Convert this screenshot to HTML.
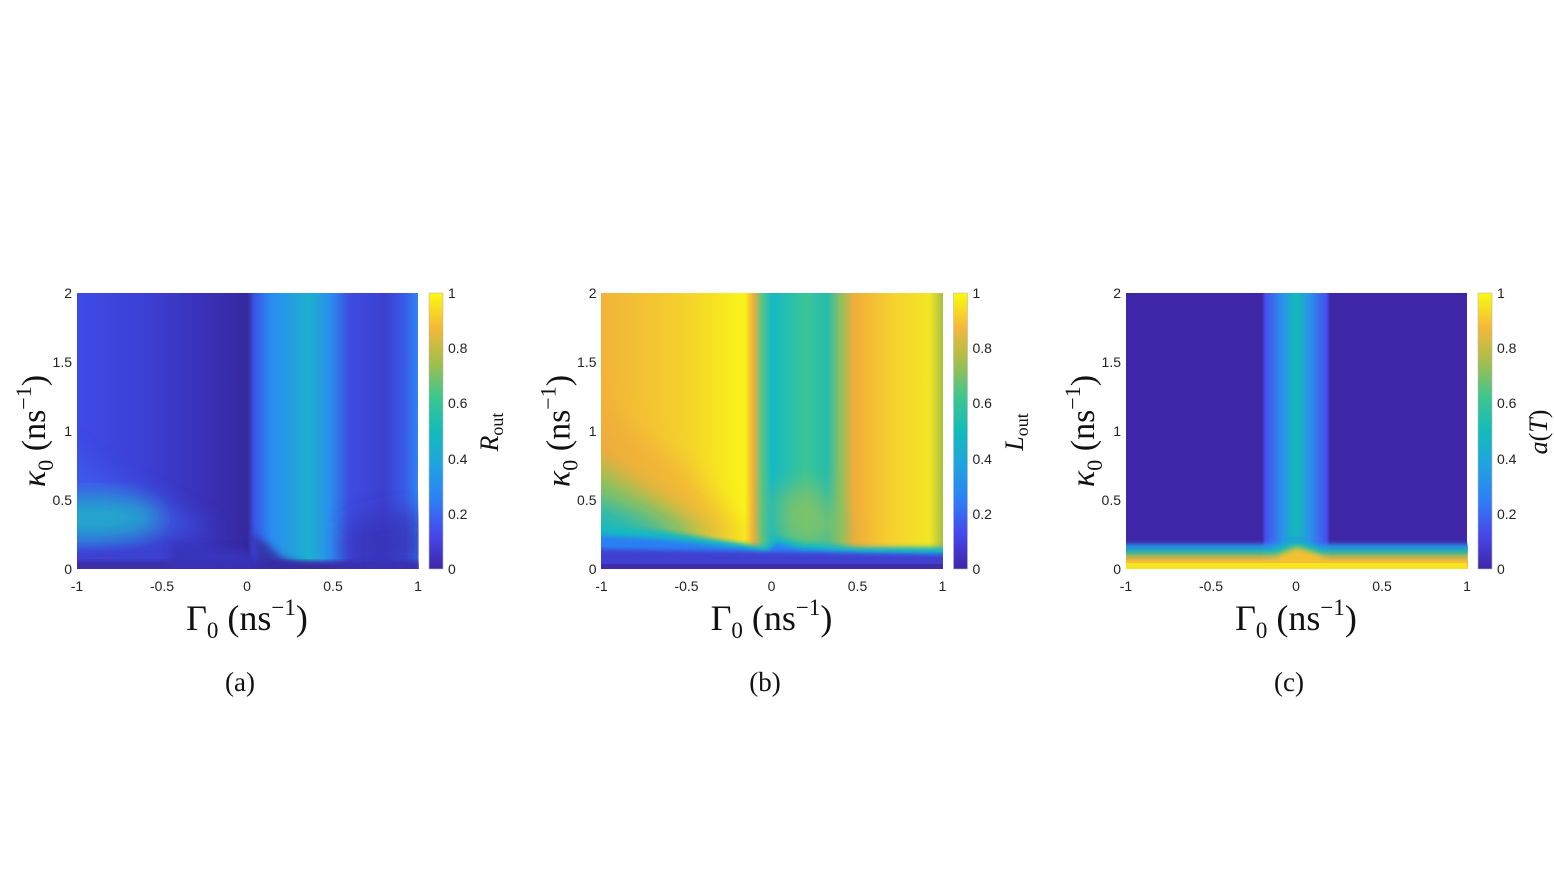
<!DOCTYPE html>
<html><head><meta charset="utf-8"><style>
html,body{margin:0;padding:0;background:#fff}
svg text{font-family:"Liberation Sans",sans-serif}
.t{font-size:14px;fill:#222}
.s{font-family:"Liberation Serif",serif !important;fill:#111}
</style></head><body>
<svg width="1554" height="874" viewBox="0 0 1554 874" xmlns="http://www.w3.org/2000/svg">
<defs>
<filter id="b4" x="-20%" y="-20%" width="140%" height="140%"><feGaussianBlur stdDeviation="4"/></filter>
<filter id="b10" x="-30%" y="-30%" width="160%" height="160%"><feGaussianBlur stdDeviation="12"/></filter>
<filter id="b2"><feGaussianBlur stdDeviation="2"/></filter>
<clipPath id="cp"><rect width="342" height="276"/></clipPath>
<linearGradient id="parula" x1="0" y1="1" x2="0" y2="0">
<stop offset="0" stop-color="#3e26a8"/><stop offset="0.125" stop-color="#4747eb"/>
<stop offset="0.25" stop-color="#2d7ff6"/><stop offset="0.375" stop-color="#1fa3e0"/>
<stop offset="0.5" stop-color="#12bcb8"/><stop offset="0.625" stop-color="#3fc58f"/>
<stop offset="0.75" stop-color="#a4be4a"/><stop offset="0.875" stop-color="#f5b83a"/>
<stop offset="1" stop-color="#f9fb0e"/></linearGradient>
<linearGradient id="ah" x1="0" y1="0" x2="1" y2="0">
<stop offset="0" stop-color="#3e4ae6"/><stop offset="0.2" stop-color="#3c40d4"/>
<stop offset="0.38" stop-color="#3930b6"/><stop offset="0.5" stop-color="#36299f"/>
<stop offset="0.52" stop-color="#3a55e6"/><stop offset="0.57" stop-color="#2a8cf2"/>
<stop offset="0.68" stop-color="#1db0cc"/><stop offset="0.74" stop-color="#2a90ee"/>
<stop offset="0.8" stop-color="#3d4ce0"/><stop offset="0.9" stop-color="#3c3fd0"/>
<stop offset="0.96" stop-color="#3a5ae8"/><stop offset="1" stop-color="#2f85f2"/></linearGradient>
<linearGradient id="bh" x1="0" y1="0" x2="1" y2="0">
<stop offset="0" stop-color="#f2b23a"/><stop offset="0.25" stop-color="#f5d22c"/>
<stop offset="0.42" stop-color="#f9f418"/><stop offset="0.445" stop-color="#f2ae3a"/>
<stop offset="0.47" stop-color="#5cc482"/><stop offset="0.5" stop-color="#14b9c4"/>
<stop offset="0.6" stop-color="#3bc596"/><stop offset="0.66" stop-color="#25bcae"/>
<stop offset="0.7" stop-color="#8cc060"/><stop offset="0.74" stop-color="#f2ad3a"/>
<stop offset="0.85" stop-color="#f6d02e"/><stop offset="0.96" stop-color="#f3e624"/>
<stop offset="1" stop-color="#a8bf44"/></linearGradient>
<linearGradient id="cband" x1="0" y1="0" x2="1" y2="0">
<stop offset="0" stop-color="#3f26a6"/><stop offset="0.05" stop-color="#4650f0"/>
<stop offset="0.3" stop-color="#2a92ea"/><stop offset="0.5" stop-color="#12bcb8"/>
<stop offset="0.7" stop-color="#2a92ea"/><stop offset="0.95" stop-color="#4650f0"/><stop offset="1" stop-color="#3f26a6"/></linearGradient>
</defs>

<!-- PANEL A -->
<g transform="translate(77,293)" clip-path="url(#cp)">
<rect width="341" height="276" fill="url(#ah)"/>
<polygon points="-20,150 60,200 140,240 -20,240" fill="#3f5cec" filter="url(#b10)" opacity="0.8"/>
<ellipse cx="15" cy="225" rx="70" ry="22" fill="#22a8cc" filter="url(#b10)"/>
<polygon points="-10,258 100,255 165,262 175,276 -10,280" fill="#3d3fd0" filter="url(#b4)"/>
<polygon points="-10,268 341,268 345,285 -10,285" fill="#3a2ea8" filter="url(#b2)"/>
<polygon points="95,250 170,258 230,276 90,280" fill="#3933b8" filter="url(#b4)" opacity="0.8"/>
<polygon points="172,240 185,280 250,280 205,265 190,250" fill="#36299f" filter="url(#b4)" opacity="0.8"/>
<polygon points="270,230 345,215 345,280 270,280" fill="#3930b8" filter="url(#b10)" opacity="0.8"/>
</g>
<!-- PANEL B -->
<g transform="translate(601,293)" clip-path="url(#cp)">
<rect width="342" height="276" fill="url(#bh)"/>
<polygon points="-20,100 80,170 150,250 -20,250" fill="#f0a93c" filter="url(#b10)" opacity="0.6"/>
<polygon points="-20,160 60,210 120,250 -20,250" fill="#8cc25c" filter="url(#b10)"/>
<polygon points="-20,200 40,225 90,250 -20,250" fill="#1cb8bc" filter="url(#b10)"/>
<polygon points="175,200 215,190 240,230 250,250 180,250" fill="#8cc260" filter="url(#b10)" opacity="0.8"/>
<polygon points="-10,232 60,238 140,250 165,254 175,244 200,250 260,254 350,254 350,280 -10,280" fill="#15b8c2" filter="url(#b2)"/>
<polygon points="-10,242 60,246 140,255 165,260 175,250 200,256 260,260 350,261 350,280 -10,280" fill="#2c7ff2" filter="url(#b2)"/>
<polygon points="-10,256 350,262 350,280 -10,280" fill="#4040d0" filter="url(#b2)"/>
<rect y="271" width="342" height="6" fill="#3e2ca8"/>
</g>
<!-- PANEL C -->
<g transform="translate(1126,293)" clip-path="url(#cp)">
<rect width="341" height="276" fill="#3f26a6"/>
<rect x="136" width="68" height="276" fill="url(#cband)"/>
<polygon points="-5,251 136,251 160,250 171,244 185,251 350,251 350,257 -5,257" fill="#2d8cee" filter="url(#b2)"/>
<polygon points="-5,255 145,255 171,246 195,255 350,255 350,262 -5,262" fill="#18b4c2" filter="url(#b2)"/>
<polygon points="-5,260 150,260 171,252 195,260 350,260 350,266 -5,266" fill="#7cc46a" filter="url(#b2)"/>
<polygon points="-5,264 150,264 171,256 200,264 350,264 350,280 -5,280" fill="#f4c030" filter="url(#b2)"/>
<rect y="270" width="341" height="7" fill="#f6e422"/>
</g>

<g id="ax">
<g class="t" text-anchor="end">
<text x="72" y="298">2</text><text x="72" y="367">1.5</text><text x="72" y="436">1</text><text x="72" y="505">0.5</text><text x="72" y="574">0</text>
</g>
<g class="t" text-anchor="middle">
<text x="77" y="591">-1</text><text x="162" y="591">-0.5</text><text x="247" y="591">0</text><text x="333" y="591">0.5</text><text x="418" y="591">1</text>
</g>
<rect x="429" y="293" width="14" height="276" fill="url(#parula)"/>
<rect x="429" y="293" width="14" height="276" fill="none" stroke="#bbb" stroke-width="0.6"/>
<g class="t"><text x="448" y="298">1</text><text x="448" y="353">0.8</text><text x="448" y="408">0.6</text><text x="448" y="464">0.4</text><text x="448" y="519">0.2</text><text x="448" y="574">0</text></g>
<text class="s" transform="translate(45,431) rotate(-90)" text-anchor="middle" font-size="34" font-style="italic">κ<tspan font-style="normal" font-size="22" dy="8">0</tspan><tspan font-style="normal" dy="-8"> (ns</tspan><tspan font-style="normal" font-size="22" dy="-14">−1</tspan><tspan font-style="normal" dy="14">)</tspan></text>
<text class="s" x="247" y="630" text-anchor="middle" font-size="36">Γ<tspan font-size="23" dy="8">0</tspan><tspan dy="-8"> (ns</tspan><tspan font-size="23" dy="-15">−1</tspan><tspan dy="15">)</tspan></text>
<text class="s" x="240" y="691" text-anchor="middle" font-size="27">(a)</text>
</g>
<use href="#ax" transform="translate(524.5,0)"/>
<use href="#ax" transform="translate(1049,0)"/>
<rect x="470" y="395" width="40" height="75" fill="#fff"/>
<rect x="995" y="395" width="40" height="75" fill="#fff"/>
<rect x="1520" y="395" width="40" height="75" fill="#fff"/>
<rect x="740" y="660" width="50" height="40" fill="#fff"/>
<rect x="1265" y="660" width="50" height="40" fill="#fff"/>
<text class="s" transform="translate(498,432) rotate(-90)" text-anchor="middle" font-size="26" font-style="italic">R<tspan font-style="normal" font-size="18" dy="5">out</tspan></text>
<text class="s" transform="translate(1023,432) rotate(-90)" text-anchor="middle" font-size="26" font-style="italic">L<tspan font-style="normal" font-size="18" dy="5">out</tspan></text>
<text class="s" transform="translate(1547,432) rotate(-90)" text-anchor="middle" font-size="26"><tspan font-style="italic">a</tspan>(<tspan font-style="italic">T</tspan>)</text>
<text class="s" x="765" y="691" text-anchor="middle" font-size="27">(b)</text>
<text class="s" x="1289" y="691" text-anchor="middle" font-size="27">(c)</text>
</svg>
</body></html>
